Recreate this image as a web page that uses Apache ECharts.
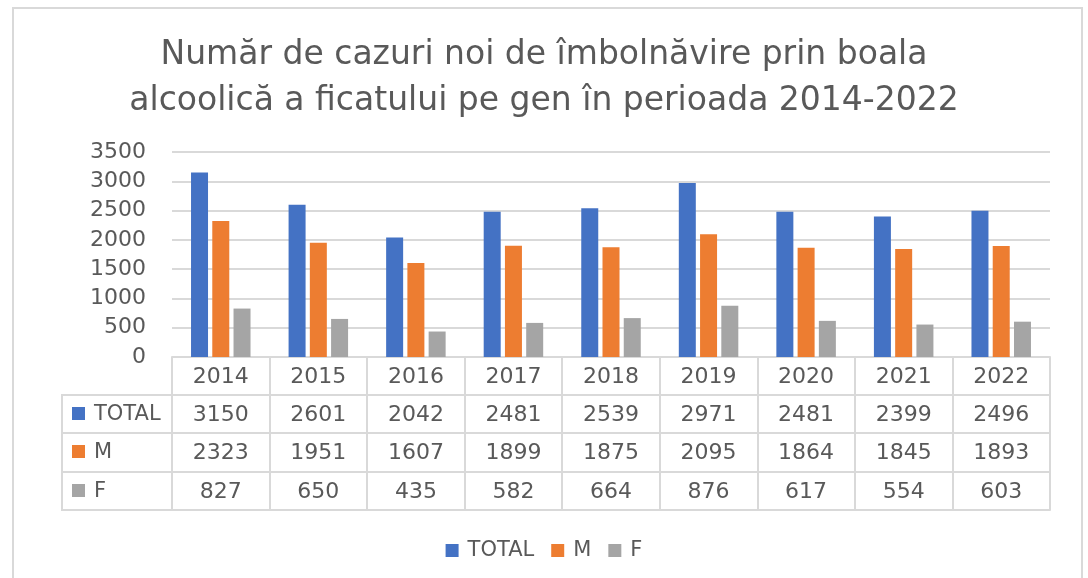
<!DOCTYPE html>
<html>
<head>
<meta charset="utf-8">
<title>Număr de cazuri noi</title>
<script src="https://cdn.jsdelivr.net/npm/echarts@6/dist/echarts.min.js"></script>
<style>
  html, body { margin: 0; padding: 0; background: #fff; }
  #chart { width: 1088px; height: 578px; }
</style>
</head>
<body>
<div id="chart"></div>
<script>
// date citite din tabel
const years = ['2014', '2015', '2016', '2017', '2018', '2019', '2020', '2021', '2022'];
const totalVals = [3150, 2601, 2042, 2481, 2539, 2971, 2481, 2399, 2496];
const mVals = [2323, 1951, 1607, 1899, 1875, 2095, 1864, 1845, 1893];
const fVals = [827, 650, 435, 582, 664, 876, 617, 554, 603];
const seriesNames = ['TOTAL', 'M', 'F'];
const colors = ['#4472C4', '#ED7D31', '#A5A5A5'];

const textColor = '#595959';
const lineColor = '#d9d9d9';
const font = 'DejaVu Sans';
const rows = [totalVals, mVals, fVals];

// randurile tabelului sub axa (offset fata de axa principala)
const rowOffsets = [38, 76, 115];
const rowHeights = [38, 39, 38];

const chart = echarts.init(document.getElementById('chart'));

const xAxes = [
  {
    type: 'category',
    data: years,
    axisLine: { lineStyle: { color: lineColor, width: 2 } },
    axisTick: { show: true, length: 38, lineStyle: { color: lineColor, width: 2 } },
    axisLabel: { color: textColor, fontSize: 22, fontFamily: font, margin: 20, verticalAlign: 'middle' }
  }
];
rows.forEach((vals, i) => {
  xAxes.push({
    type: 'category',
    position: 'bottom',
    offset: rowOffsets[i],
    data: vals.map(String),
    axisLine: { lineStyle: { color: lineColor, width: 2 } },
    axisTick: { show: true, length: rowHeights[i], lineStyle: { color: lineColor, width: 2 } },
    axisLabel: { color: textColor, fontSize: 22, fontFamily: font, margin: rowHeights[i] / 2 + 1, verticalAlign: 'middle' }
  });
});
// linia de jos a tabelului
xAxes.push({
  type: 'category',
  position: 'bottom',
  offset: 153,
  data: years,
  axisLine: { lineStyle: { color: lineColor, width: 2 } },
  axisTick: { show: false },
  axisLabel: { show: false }
});

// coloana din stanga a tabelului
const graphics = [
  {
    type: 'rect',
    shape: { x: 13, y: 8, width: 1069, height: 600 },
    style: { fill: 'none', stroke: lineColor, lineWidth: 2 },
    silent: true
  },
  {
    type: 'rect',
    shape: { x: 62, y: 395, width: 110, height: 115 },
    style: { fill: 'none', stroke: lineColor, lineWidth: 2 },
    silent: true
  },
  {
    type: 'line',
    shape: { x1: 62, y1: 433, x2: 172, y2: 433 },
    style: { stroke: lineColor, lineWidth: 2 },
    silent: true
  },
  {
    type: 'line',
    shape: { x1: 62, y1: 472, x2: 172, y2: 472 },
    style: { stroke: lineColor, lineWidth: 2 },
    silent: true
  }
];
const rowCenters = [414, 452, 491];
seriesNames.forEach((name, i) => {
  graphics.push({
    type: 'rect',
    shape: { x: 72, y: rowCenters[i] - 7, width: 13, height: 13 },
    style: { fill: colors[i] },
    silent: true
  });
  graphics.push({
    type: 'text',
    x: 94,
    y: rowCenters[i] + 1,
    style: { text: name, fill: textColor, font: '21px "DejaVu Sans"', textVerticalAlign: 'middle' },
    silent: true
  });
});

const option = {
  animation: false,
  textStyle: { fontFamily: font },
  title: {
    text: 'Număr de cazuri noi de îmbolnăvire prin boala\nalcoolică a ficatului pe gen în perioada 2014-2022',
    left: 'center',
    top: 27,
    textStyle: {
      color: textColor,
      fontSize: 33,
      fontWeight: 'normal',
      fontFamily: font,
      lineHeight: 46
    }
  },
  legend: {
    data: seriesNames,
    top: 535,
    left: 'center',
    icon: 'rect',
    itemWidth: 13,
    itemHeight: 13,
    itemGap: 17,
    textStyle: { color: textColor, fontSize: 21, fontFamily: font, padding: [0, 0, 0, 4] }
  },
  grid: { left: 172, right: 38, top: 152, bottom: 221 },
  xAxis: xAxes,
  yAxis: {
    type: 'value',
    min: 0,
    max: 3500,
    interval: 500,
    axisLine: { show: false },
    axisTick: { show: false },
    axisLabel: { color: textColor, fontSize: 22, fontFamily: font, margin: 26, formatter: v => String(v) },
    splitLine: { lineStyle: { color: lineColor, width: 2 } }
  },
  graphic: graphics,
  series: seriesNames.map((name, i) => ({
    name: name,
    type: 'bar',
    xAxisIndex: 0,
    data: rows[i],
    barWidth: 17,
    barGap: '25%',
    itemStyle: { color: colors[i] }
  }))
};

chart.setOption(option);
</script>
</body>
</html>
